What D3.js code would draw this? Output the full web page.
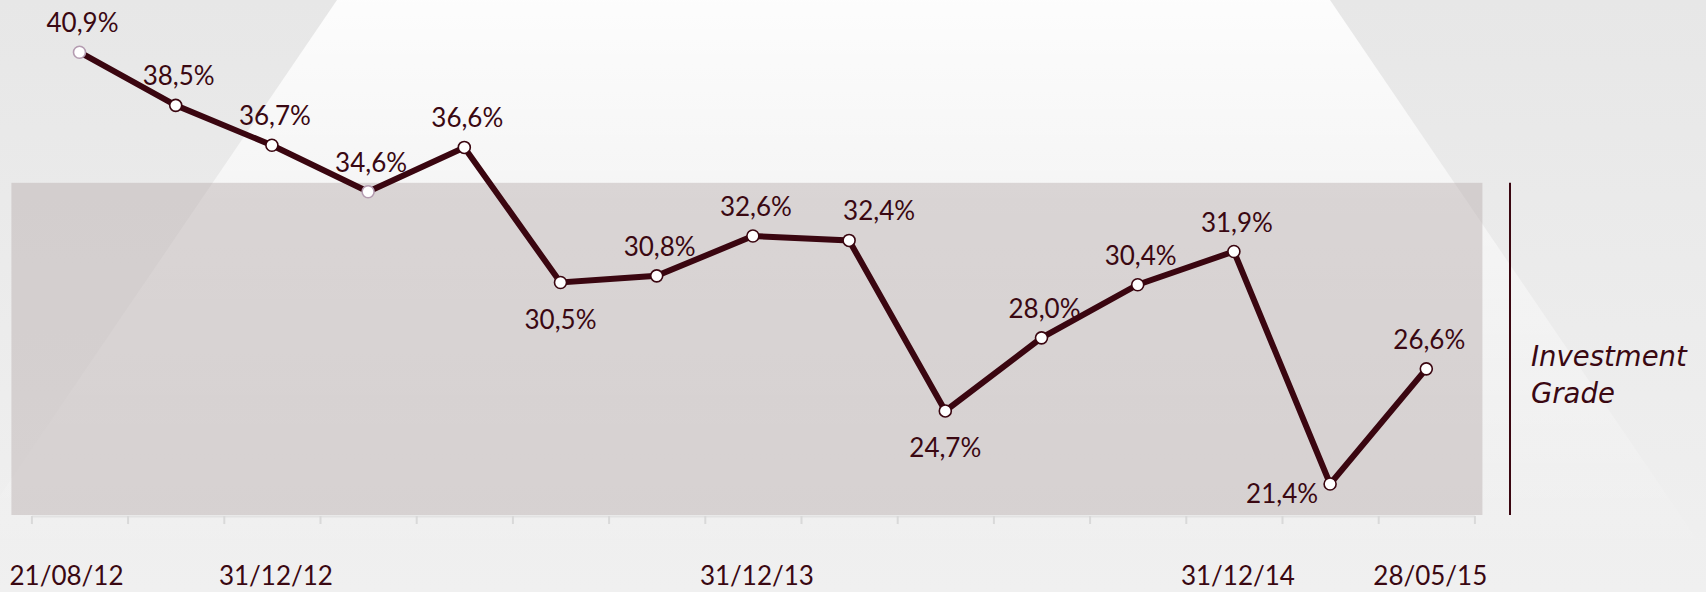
<!DOCTYPE html>
<html>
<head>
<meta charset="utf-8">
<script src="https://cdn.jsdelivr.net/npm/d3@7"></script>
<style>
  html, body { margin: 0; padding: 0; background: #ececec; }
  svg { display: block; }
  .val { font-family: Lato, "DejaVu Sans", sans-serif; font-weight: 400; font-size: 26px; fill: #3a0812; }
  .date { font-family: Lato, "DejaVu Sans", sans-serif; font-weight: 400; font-size: 26px; fill: #3a0812; }
  .grade { font-family: "DejaVu Sans", sans-serif; font-style: italic; font-weight: 300; font-size: 27.5px; fill: #3a0812; }
</style>
</head>
<body>
<div id="chart"></div>
<script>
// data
const dateLabels = ['21/08/12', '', '31/12/12', '', '', '', '', '31/12/13', '', '', '', '', '31/12/14', '', '28/05/15'];
const shareValues = [40.9, 38.5, 36.7, 34.6, 36.6, 30.5, 30.8, 32.6, 32.4, 24.7, 28.0, 30.4, 31.9, 21.4, 26.6];
const gradeBand = [20, 35];
const gradeLabel = ['Investment', 'Grade'];

// where each value label sits relative to its point
const labelPlace = ['above', 'above', 'above', 'above', 'above', 'below', 'above', 'above', 'aboveRight', 'below', 'above', 'above', 'above', 'left', 'above'];
const highlighted = [0, 3];

const width = 1706;
const height = 592;
const maroon = '#3a0610';

const svg = d3.select('#chart').append('svg')
  .attr('width', width)
  .attr('height', height);

const defs = svg.append('defs');
const bgGrad = defs.append('linearGradient').attr('id', 'bg').attr('x1', 0).attr('y1', 0).attr('x2', 0).attr('y2', 1);
bgGrad.append('stop').attr('offset', '0%').attr('stop-color', '#e7e7e7');
bgGrad.append('stop').attr('offset', '100%').attr('stop-color', '#f0f0f0');

const spotGrad = defs.append('linearGradient').attr('id', 'spot')
  .attr('gradientUnits', 'userSpaceOnUse').attr('x1', 0).attr('y1', 0).attr('x2', 0).attr('y2', 560);
spotGrad.append('stop').attr('offset', '0%').attr('stop-color', '#ffffff').attr('stop-opacity', 0.9);
spotGrad.append('stop').attr('offset', '35%').attr('stop-color', '#ffffff').attr('stop-opacity', 0.55);
spotGrad.append('stop').attr('offset', '100%').attr('stop-color', '#ffffff').attr('stop-opacity', 0);

svg.append('rect').attr('width', width).attr('height', height).attr('fill', 'url(#bg)');

// light cone in the background
const slope = 0.68;
svg.append('polygon')
  .attr('points', [[337, 0], [1330, 0], [1330 + slope * height, height], [337 - slope * height, height]].join(' '))
  .attr('fill', 'url(#spot)');

// scales
const x = d3.scaleLinear().domain([0, shareValues.length]).range([31.4, 1474.4]);
const y = d3.scaleLinear().domain([20, 41]).range([515, 50]);

// investment grade band
svg.append('rect')
  .attr('x', x.range()[0] - 20)
  .attr('y', y(gradeBand[1]))
  .attr('width', x.range()[1] - x.range()[0] + 28)
  .attr('height', y(gradeBand[0]) - y(gradeBand[1]))
  .attr('fill', 'rgb(185,172,172)')
  .attr('fill-opacity', 0.45);

svg.append('line')
  .attr('x1', 1510).attr('x2', 1510)
  .attr('y1', y(gradeBand[1])).attr('y2', y(gradeBand[0]))
  .attr('stroke', maroon).attr('stroke-width', 2);

svg.append('text')
  .attr('class', 'grade')
  .attr('x', 1531)
  .attr('y', 366)
  .selectAll('tspan').data(gradeLabel).join('tspan')
  .attr('x', 1531)
  .attr('dy', (d, i) => i === 0 ? 0 : 37)
  .text(d => d);

// x axis with ticks between the dates
const xAxis = svg.append('g')
  .attr('transform', `translate(0,${y(gradeBand[0]) + 1})`)
  .call(d3.axisBottom(x).tickValues(d3.range(shareValues.length + 1)).tickFormat('').tickSize(8).tickSizeOuter(0));
xAxis.select('.domain').attr('stroke', '#e2e2e2').attr('stroke-width', 2);
xAxis.selectAll('.tick line').attr('stroke', '#d9d9d9').attr('stroke-width', 2);

svg.selectAll('.date').data(dateLabels).join('text')
  .attr('class', 'date')
  .attr('x', (d, i) => x(i + 0.5) + (i === 0 ? -13 : 4))
  .attr('y', 585)
  .attr('text-anchor', 'middle')
  .text(d => d);

// line
const line = d3.line()
  .x((d, i) => x(i + 0.5))
  .y(d => y(d));

svg.append('path')
  .datum(shareValues)
  .attr('d', line)
  .attr('fill', 'none')
  .attr('stroke', maroon)
  .attr('stroke-width', 6)
  .attr('stroke-linejoin', 'miter');

svg.selectAll('.dot').data(shareValues).join('circle')
  .attr('class', 'dot')
  .attr('cx', (d, i) => x(i + 0.5))
  .attr('cy', d => y(d))
  .attr('r', 6)
  .attr('fill', '#fff')
  .attr('stroke', (d, i) => highlighted.includes(i) ? '#b49cb1' : maroon)
  .attr('stroke-width', 1.6);

// value labels
const fmt = v => d3.format('.1f')(v).replace('.', ',') + '%';
const offset = {
  above: { dx: 3, dy: -20, anchor: 'middle' },
  below: { dx: 0, dy: 46, anchor: 'middle' },
  aboveRight: { dx: 30, dy: -20, anchor: 'middle' },
  left: { dx: -12, dy: 19, anchor: 'end' }
};

svg.selectAll('.val').data(shareValues).join('text')
  .attr('class', 'val')
  .attr('x', (d, i) => x(i + 0.5) + offset[labelPlace[i]].dx)
  .attr('y', (d, i) => y(d) + offset[labelPlace[i]].dy)
  .attr('text-anchor', (d, i) => offset[labelPlace[i]].anchor)
  .text(d => fmt(d));
</script>
</body>
</html>
